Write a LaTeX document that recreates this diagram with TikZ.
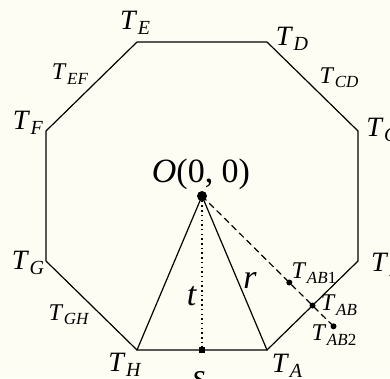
\documentclass[tikz,border=0pt]{standalone}
\usepackage{fontspec}
\setmainfont{Liberation Serif}
\usetikzlibrary{calc}
\definecolor{paper}{RGB}{253,253,243}
\tikzset{
    vlab/.style={
        font=\fontsize{28}{32}\selectfont, inner sep=0pt
    },
    mlab/.style={
        font=\fontsize{24}{28}\selectfont, inner sep=0pt
    },
    biglab/.style={
        font=\fontsize{34}{38}\selectfont, inner sep=0pt
    }
}
\newcommand{\Tv}[1]{\textit{T}\kern0.02em\raisebox{-0.18em}{\fontsize{20}{20}\selectfont\textit{#1}}}
\newcommand{\Tm}[1]{\textit{T}\kern0.02em\raisebox{-0.18em}{\fontsize{17}{17}\selectfont\textit{#1}}}

\begin{document}
\begin{tikzpicture}[x=1pt, y=-1pt, line cap=round, line join=round]

\tikzset{
  main/.style={draw=black, line width=1.2pt},
  dashline/.style={draw=black, line width=1.2pt, dash pattern=on 6pt off 4.5pt},
  dotline/.style={draw=black, line width=1.3pt, line cap=butt, dash pattern=on 1.5pt off 3.2pt},
  bigdot/.style={circle, fill=black, minimum size=10pt, inner sep=0pt},
  pt/.style={circle, fill=black, minimum size=6pt, inner sep=0pt},
  sq/.style={rectangle, fill=black, minimum size=6pt, inner sep=0pt},
}

\fill[paper] (0,0) rectangle (390,378);
\useasboundingbox (0,0) rectangle (390,378);

\coordinate (TA) at (267,350);
\coordinate (TB) at (358,261);
\coordinate (TC) at (358,131);
\coordinate (TD) at (267,42);
\coordinate (TE) at (137,42);
\coordinate (TF) at (46,131);
\coordinate (TG) at (46,261);
\coordinate (TH) at (137,350);
\coordinate (O) at (202,196);
\coordinate (S) at (202,350);
\coordinate (TAB) at ($(TA)!0.5!(TB)$);
\coordinate (TAB1) at ($(O)!0.79!(TAB)$);
\coordinate (TAB2) at ($(O)!1.19!(TAB)$);

% octagon
\draw[main] (TA) -- (TB) -- (TC) -- (TD) -- (TE) -- (TF) -- (TG) -- (TH) -- cycle;

% triangle O, TH, TA
\draw[main] (O) -- (TH);
\draw[main] (O) -- (TA);

% height t and ray through TAB
\draw[dotline] (O) -- (S);
\draw[dashline] (O) -- (TAB2);

% points
\node[bigdot] (o) at (O) {};
\node[sq] (s) at (S) {};
\node[pt] (ab1) at (TAB1) {};
\node[pt] (ab) at (TAB) {};
\node[pt] (ab2) at (TAB2) {};

% vertex labels
\node[vlab] (la) at (287,366) {\Tv{A}};
\node[vlab] (lb) at (386,265) {\Tv{B}};
\node[vlab] (lc) at (382,130) {\Tv{C}};
\node[vlab] (ld) at (292,39) {\Tv{D}};
\node[vlab] (le) at (135,23) {\Tv{E}};
\node[vlab] (lf) at (28,123) {\Tv{F}};
\node[vlab] (lg) at (28,263) {\Tv{G}};
\node[vlab] (lh) at (125,365) {\Tv{H}};

% side labels
\node[mlab] (lcd) at (339,78) {\Tm{CD}};
\node[mlab] (lef) at (70,74) {\Tm{EF}};
\node[mlab] (lgh) at (69,315) {\Tm{GH}};
\node[mlab] (lab1) at (314,273) {\Tm{AB\textup{1}}};
\node[mlab] (lab) at (339,305) {\Tm{AB}};
\node[mlab] (lab2) at (334,335) {\Tm{AB\textup{2}}};

% O, t, r, s
\node[biglab] (lo) at (201,174) {\textit{O}(0, 0)};
\node[biglab] (lt) at (192,296) {\textit{t}};
\node[biglab] (lr) at (250,280) {\textit{r}};
\node[biglab] (ls) at (199,380) {\textit{s}};

\end{tikzpicture}
\end{document}
